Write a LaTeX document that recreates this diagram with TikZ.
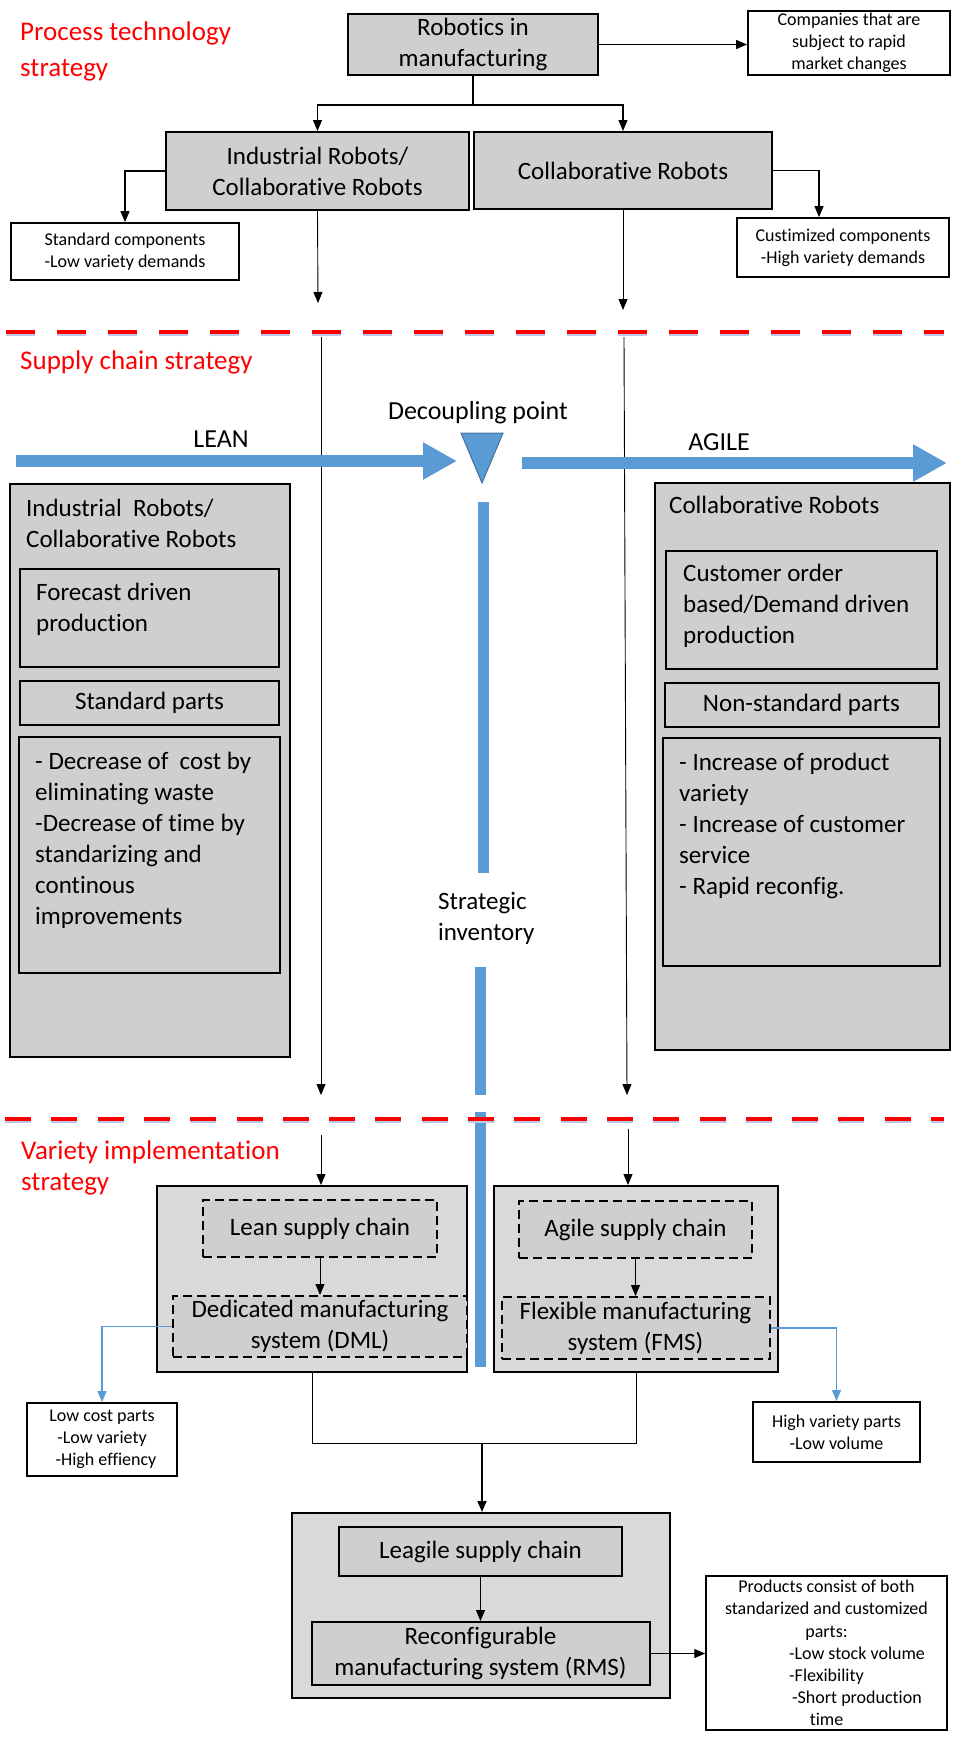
\documentclass[tikz,border=0pt]{standalone}
\usepackage{fontspec}
\setmainfont{Carlito}[Ligatures=NoCommon]
\usepackage{tikz}
\usetikzlibrary{arrows.meta, positioning, calc}
\usepackage{xcolor}

\definecolor{boxgray}{HTML}{D0CECE}
\definecolor{palegray}{HTML}{D9D9D9}
\definecolor{flowblue}{HTML}{5B9BD5}
\definecolor{edgeblue}{HTML}{41719C}
\definecolor{shadeblue}{RGB}{190,200,235}

\newcommand{\BoxFont}{\fontsize{25}{31}\selectfont}
\newcommand{\NoteFont}{\fontsize{18}{22.2}\selectfont}
\newcommand{\HeadFont}{\fontsize{27}{34}\selectfont}

\begin{document}
\begin{tikzpicture}[
		x=1pt, y=-1pt,
		graybox/.style={rectangle, draw=black, fill=boxgray, line width=2pt, inner sep=0pt, align=center, font=\BoxFont},
		outerbox/.style={graybox, fill=palegray},
		dashbox/.style={graybox, dash pattern=on 9pt off 5pt},
		notebox/.style={rectangle, draw=black, fill=white, line width=1.8pt, inner sep=0pt, align=center, font=\NoteFont},
		plaintext/.style={inner sep=0pt, align=left, font=\BoxFont},
		redhead/.style={inner sep=0pt, align=left, anchor=west, text=red, font=\HeadFont},
		conn/.style={-{Triangle[length=11pt, width=9pt]}, line width=1.2pt},
		thinconn/.style={-{Triangle[length=11pt, width=9pt]}, line width=0.9pt},
		blueconn/.style={-{Triangle[length=11pt, width=9pt]}, draw=flowblue, line width=1.1pt},
		flowarrow/.style={draw=flowblue, line width=12pt, -{Triangle[length=34pt, width=35pt]}},
		stockbar/.style={draw=flowblue, line width=11pt},
	]
	\useasboundingbox (0,0) rectangle (954,1738);

		%Process technology
		\node (headprocess) [redhead, font=\fontsize{27}{36}\selectfont] at (20,51) {Process technology\\strategy};
		\node (robotics) [graybox, minimum width=250pt, minimum height=61pt] at (473,44.5) {Robotics in\\manufacturing};
		\node (companies) [notebox, minimum width=202pt, minimum height=64pt] at (849,43) {Companies that are\\subject to rapid\\market changes};
		\node (industrial) [graybox, minimum width=303pt, minimum height=78pt] at (317.5,171) {Industrial Robots/\\Collaborative Robots};
		\node (collab) [graybox, minimum width=298pt, minimum height=77pt] at (623,170.5) {Collaborative Robots};
		\node (standard) [notebox, minimum width=228pt, minimum height=57pt] at (125,251.5) {Standard components\\-Low variety demands};
		\node (custom) [notebox, minimum width=212pt, minimum height=59pt] at (843,247.5) {Custimized components\\-High variety demands};

		%Supply chain
		\node (headsupply) [redhead] at (20,362) {Supply chain strategy};
		\node (decoupling) [plaintext, font=\fontsize{26}{31}\selectfont] at (478,413) {Decoupling point};
		\node (leanlabel) [plaintext, font=\fontsize{26}{31}\selectfont] at (221,439) {LEAN};
		\node (agilelabel) [plaintext, font=\fontsize{26}{31}\selectfont] at (719,442) {AGILE};

		\node (leanside) [graybox, minimum width=280pt, minimum height=573pt] at (150,770.5) {};
		\node (leantitle) [plaintext, below right=16pt and 17pt of leanside.north west] {Industrial\ \ Robots/\\Collaborative Robots};
		\node (forecast) [graybox, minimum width=259pt, minimum height=98pt] at (149.5,618) {};
		\node (forecasttxt) [plaintext, below right=15pt and 17pt of forecast.north west] {Forecast driven\\production};
		\node (stdparts) [graybox, minimum width=259pt, minimum height=44pt, below=12pt of forecast] {Standard parts};
		\node (decrease) [graybox, minimum width=261pt, minimum height=236pt, below=10pt of stdparts] {};
		\node (decreasetxt) [plaintext, below right=16pt and 17pt of decrease.north west] {- Decrease of\ \ cost by\\eliminating waste\\-Decrease of time by\\standarizing and\\continous\\improvements};

		\node (agileside) [graybox, minimum width=295pt, minimum height=567pt] at (802.5,766.5) {};
		\node (agiletitle) [plaintext, below right=14pt and 15pt of agileside.north west] {Collaborative Robots};
		\node (customer) [graybox, minimum width=271pt, minimum height=118pt] at (801.5,610) {};
		\node (customertxt) [plaintext, below right=14pt and 18pt of customer.north west] {Customer order\\based/Demand driven\\production};
		\node (nonstd) [graybox, minimum width=274pt, minimum height=44pt, below=12pt of customer] {Non-standard parts};
		\node (increase) [graybox, minimum width=277pt, minimum height=228pt, below=9pt of nonstd] {};
		\node (increasetxt) [plaintext, below right=16pt and 17pt of increase.north west] {- Increase of product\\variety\\- Increase of customer\\service\\- Rapid reconfig.};

		\node (strategic) [plaintext, anchor=west] at (438,918) {Strategic\\inventory};

		%Variety implementation
		\node (headvariety) [redhead, font=\fontsize{27}{31}\selectfont] at (21,1167.5) {Variety implementation\\strategy};
		\node (lean) [outerbox, minimum width=310pt, minimum height=186pt] at (312,1279) {};
		\node (leansc) [dashbox, minimum width=234pt, minimum height=57pt] at (320,1228.5) {Lean supply chain};
		\node (dml) [dashbox, minimum width=294pt, minimum height=61pt, below=37pt of leansc] {Dedicated manufacturing\\system (DML)};
		\node (agile) [outerbox, minimum width=284pt, minimum height=186pt] at (636,1279) {};
		\node (agilesc) [dashbox, minimum width=233pt, minimum height=57pt] at (635.5,1229.5) {Agile supply chain};
		\node (fms) [dashbox, minimum width=268pt, minimum height=62pt, below=37pt of agilesc] {Flexible manufacturing\\system (FMS)};
		\node (lowcost) [notebox, minimum width=150pt, minimum height=73pt] at (102,1439.5) {Low cost parts\\-Low variety\\\hspace*{8pt}-High effiency};
		\node (highvar) [notebox, minimum width=167pt, minimum height=60pt] at (836.5,1432) {High variety parts\\-Low volume};
		\node (leagile) [outerbox, minimum width=378pt, minimum height=185pt] at (481,1605.5) {};
		\node (leaglsc) [graybox, minimum width=283pt, minimum height=49pt] at (480.5,1551.5) {Leagile supply chain};
		\node (rms) [graybox, minimum width=338pt, minimum height=63pt, below=44pt of leaglsc] {Reconfigurable\\manufacturing system (RMS)};
		\node (products) [notebox, line width=1.5pt, minimum width=241pt, minimum height=154pt] at (826.5,1653) {Products consist of both\\standarized and customized\\parts:\\\hspace*{61pt}-Low stock volume\\-Flexibility\\\hspace*{61pt}-Short production\\time};

		%Coordinates
		\coordinate (split) at (473,105);
		\coordinate (indstop) at (318,303);
		\coordinate (colstop) at (623,310);
		\coordinate (indtop) at (321,337);
		\coordinate (indbot) at (321,1095);
		\coordinate (coltop) at (624,337);
		\coordinate (colbot) at (627,1095);
		\coordinate (indlow) at (321,1135);
		\coordinate (collow) at (628,1129);
		\coordinate (merge) at (482,1443);
		\coordinate (leanfrom) at (16,461);
		\coordinate (leanto) at (457,461);
		\coordinate (agilefrom) at (522,463);
		\coordinate (agileto) at (947,463);

		%Lines
		\draw[line width=1.2pt] (robotics.south) -- (split);
		\draw[conn] (split) -| (industrial.north);
		\draw[conn] (split) -| (collab.north);
		\draw[conn] (robotics.east) -- (robotics.east -| companies.west);
		\draw[conn] (industrial.west) -| (standard.north);
		\draw[conn] (collab.east) -| ([xshift=-24pt]custom.north);
		\draw[thinconn] (industrial.south) -- (indstop);
		\draw[thinconn] (collab.south) -- (colstop);
		\draw[thinconn] (indtop) -- (indbot);
		\draw[thinconn] (coltop) -- (colbot);
		\draw[thinconn] (indlow) -- (indlow |- lean.north);
		\draw[thinconn] (collow) -- (collow |- agile.north);

		\draw[thinconn] (leansc.south) -- (leansc.south |- dml.north);
		\draw[thinconn] (agilesc.south) -- (agilesc.south |- fms.north);
		\draw[blueconn] (dml.west) -| (lowcost.north);
		\draw[blueconn] (fms.east) -| (highvar.north);
		\draw[line width=0.9pt] (lean.south) |- (merge) -| (agile.south);
		\draw[conn, line width=1.8pt] (merge) -- (merge |- leagile.north);
		\draw[thinconn] (leaglsc.south) -- (leaglsc.south |- rms.north);
		\draw[conn] (rms.east) -- (rms.east -| products.west);

		%Decoupling point and flows
		\draw[flowarrow] (leanfrom) -- (leanto);
		\draw[flowarrow] (agilefrom) -- (agileto);
		\filldraw[fill=flowblue, draw=edgeblue, line width=1pt] (461,433) -- (503,433) -- (482,483) -- cycle;
		\draw[stockbar] (483,502) -- (483,873);
		\draw[stockbar] (480,967) -- (480,1095);
		\draw[stockbar] (480,1112) -- (480,1367);

		%Separators
		\draw[shadeblue, line width=2.5pt, dash pattern=on 29pt off 22pt] (6,335) -- (944,335);
		\draw[red, line width=3.5pt, dash pattern=on 29pt off 22pt] (6,332) -- (944,332);
		\draw[shadeblue, line width=2.5pt, dash pattern=on 26pt off 20.3pt] (5,1122) -- (944,1122);
		\draw[red, line width=3.5pt, dash pattern=on 26pt off 20.3pt] (5,1119) -- (944,1119);
	\end{tikzpicture}
\end{document}
